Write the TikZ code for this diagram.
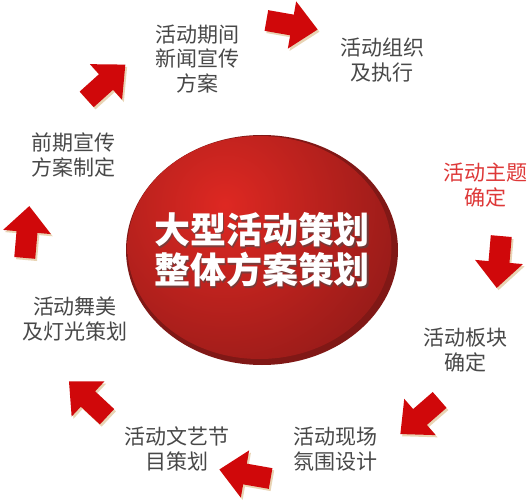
\documentclass[tikz,border=0pt]{standalone}
\usepackage{fontspec}
\newfontfamily\cjk{Noto Sans CJK SC}
\usetikzlibrary{shadings}
\definecolor{labelgray}{RGB}{72,72,72}
\definecolor{labelred}{RGB}{222,56,56}
\definecolor{arrowred}{RGB}{208,8,10}
\definecolor{arrowshadow}{RGB}{232,212,180}
\definecolor{ballrim}{RGB}{128,24,22}
\definecolor{balllight}{RGB}{222,40,34}
\definecolor{balldark}{RGB}{145,26,24}
\tikzset{
  lbl/.style={align=center, inner sep=0pt, text=labelgray, font=\cjk\fontsize{21}{24.5}\selectfont},
  redlbl/.style={lbl, text=labelred},
  titletext/.style={align=center, inner sep=0pt, font=\cjk\bfseries\fontsize{36}{40}\selectfont},
}
\newcommand{\blockarrowpath}{(-26,-10.5) -- (0,-10.5) -- (0,-24) -- (26,0) -- (0,24) -- (0,10.5) -- (-26,10.5) -- cycle}
\newcommand{\blockarrow}[3]{%
  \begin{scope}[shift={(#1,#2)}, xshift=1.8pt, yshift=-2.2pt, rotate=#3]
    \fill[arrowshadow] \blockarrowpath;
  \end{scope}
  \begin{scope}[shift={(#1,#2)}, rotate=#3]
    \fill[arrowred] \blockarrowpath;
  \end{scope}}
\begin{document}
\begin{tikzpicture}[x=1pt, y=-1pt]
\useasboundingbox (0,0) rectangle (531,500);
\fill[white] (0,0) rectangle (531,500);
% central ball
\fill[ballrim] (262,250) ellipse (136 and 115);
\begin{scope}
  \clip (259.5,247.5) ellipse (132 and 111.5);
  \shade[inner color=balllight, outer color=balldark] (225,205) circle (200);
\end{scope}
\node[titletext, text=black!70, opacity=0.6] at (263.5,251.5) {大型活动策划\\整体方案策划};
\node[titletext, text=white] (title) at (262,250) {大型活动策划\\整体方案策划};
% labels
\node[lbl] (n1) at (197,59) {活动期间\\新闻宣传\\方案};
\node[lbl] (n2) at (382,60) {活动组织\\及执行};
\node[redlbl] (n3) at (485,185) {活动主题\\确定};
\node[lbl] (n4) at (465,350) {活动板块\\确定};
\node[lbl] (n5) at (335,449) {活动现场\\氛围设计};
\node[lbl] (n6) at (177,449) {活动文艺节\\目策划};
\node[lbl] (n7) at (75,319) {活动舞美\\及灯光策划};
\node[lbl] (n8) at (73,155) {前期宣传\\方案制定};
% arrows
\blockarrow{292}{25}{-10}
\blockarrow{106}{82}{42}
\blockarrow{27}{232}{85}
\blockarrow{88}{399}{137}
\blockarrow{245}{474}{170}
\blockarrow{420}{417}{221}
\blockarrow{499}{262}{265}
\end{tikzpicture}
\end{document}
